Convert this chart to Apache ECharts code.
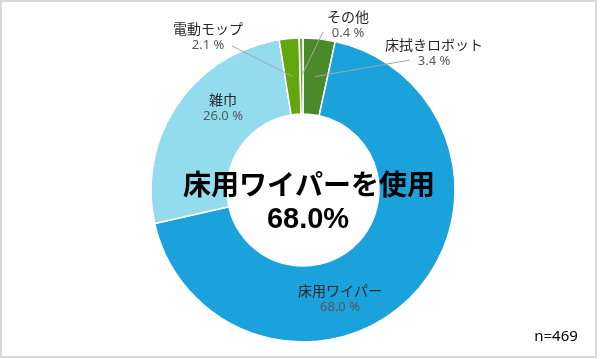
<!DOCTYPE html>
<html><head><meta charset="utf-8">
<script src="https://cdn.jsdelivr.net/npm/echarts@6/dist/echarts.min.js"></script>
<style>html,body{margin:0;padding:0;background:#fff}#c{width:600px;height:359px}</style>
</head><body><div id="c"></div>
<script>
// ---- data ----
const categories = ['床拭きロボット', '床用ワイパー', '雑巾', '電動モップ', 'その他'];
const shares = [3.4, 68.0, 26.0, 2.1, 0.4];
const centerTitle = '床用ワイパーを使用';
const centerValue = '68.0%';
const sampleNote = 'n=469';

// ---- styling ----
const sliceColors = ['#4a8a2a', '#1ba1db', '#93dcee', '#62a70f', '#7f9a4a'];
// label block centres and leader-line end points (text placement only)
const labelSpots = [
  {x: 434, y: 53, lx: 410, ly: 60},
  {x: 340, y: 299},
  {x: 223, y: 108},
  {x: 208, y: 37, lx: 232, ly: 46},
  {x: 348, y: 25, lx: 323, ly: 32}
];

const chart = echarts.init(document.getElementById('c'), null, {renderer: 'canvas'});

const seriesData = categories.map((name, i) => ({
  name: name,
  value: shares[i],
  itemStyle: {color: sliceColors[i]}
}));

const baseGraphic = [
  {id: 'frame', type: 'rect', shape: {x: 1, y: 1, width: 595, height: 356},
   style: {fill: 'none', stroke: '#d9d9d9', lineWidth: 2}, z: 0},
  {id: 't1', type: 'text', x: 309, y: 184, z: 10,
   style: {text: centerTitle, fill: '#000', font: 'bold 28px "Noto Sans CJK JP"', align: 'center', verticalAlign: 'middle'}},
  {id: 't2', type: 'text', x: 308, y: 220, z: 10,
   style: {text: centerValue, fill: '#000', font: 'bold 29px "Liberation Sans"', align: 'center', verticalAlign: 'middle'}},
  {id: 't3', type: 'text', x: 556, y: 337, z: 10,
   style: {text: sampleNote, fill: '#000', font: '15px "Noto Sans"', align: 'center', verticalAlign: 'middle'}}
];

chart.setOption({
  animation: false,
  backgroundColor: '#ffffff',
  graphic: baseGraphic,
  series: [{
    type: 'pie',
    center: [303, 190],
    radius: [76, 152],
    startAngle: 90,
    clockwise: true,
    avoidLabelOverlap: false,
    itemStyle: {borderColor: '#ffffff', borderWidth: 1.5},
    label: {
      show: true,
      position: 'outside',
      formatter: p => '{n|' + p.name + '}\n{v|' + p.value.toFixed(1) + ' %}',
      rich: {
        n: {fontSize: 14, color: '#262626', fontFamily: '"Noto Sans CJK JP"', lineHeight: 17, align: 'center'},
        v: {fontSize: 13, color: '#595959', fontFamily: '"Noto Sans"', lineHeight: 17, align: 'center'}
      }
    },
    labelLine: {show: false},
    labelLayout: function (p) {
      const s = labelSpots[p.dataIndex];
      return {x: s.x, y: s.y, align: 'center', verticalAlign: 'middle'};
    },
    data: seriesData
  }]
});

// leader lines from the middle of each small slice (library layout) to its label
const pieData = chart.getModel().getSeriesByIndex(0).getData();
const leaders = [];
labelSpots.forEach((s, i) => {
  if (s.lx === undefined) return;
  const lay = pieData.getItemLayout(i);
  const mid = (lay.startAngle + lay.endAngle) / 2;
  const rm = (lay.r0 + lay.r) / 2;
  leaders.push({
    id: 'leader' + i, type: 'line', z: 20,
    shape: {x1: lay.cx + rm * Math.cos(mid), y1: lay.cy + rm * Math.sin(mid), x2: s.lx, y2: s.ly},
    style: {stroke: '#a6a6a6', lineWidth: 1}
  });
});
chart.setOption({graphic: baseGraphic.concat(leaders)});
</script></body></html>
